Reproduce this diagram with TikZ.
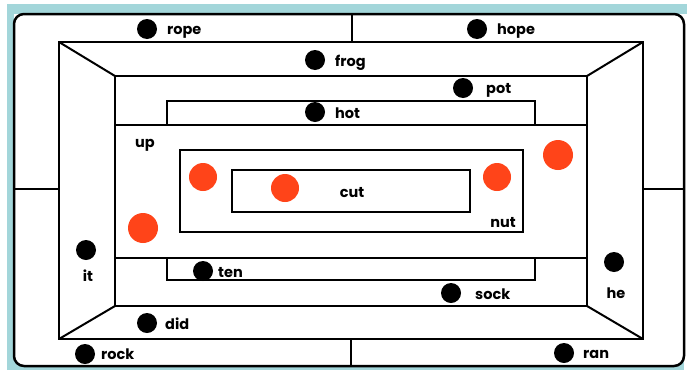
\documentclass[tikz,border=0pt]{standalone}
\usepackage{fontspec}
\setmainfont{Poppins}
\usepackage{xcolor}
\definecolor{bandteal}{HTML}{A3D6DA}
\definecolor{dotred}{HTML}{FF4419}
\tikzset{
  frame/.style={draw=black,line width=2pt},
  blackdot/.style={circle,fill=black,inner sep=0pt,minimum size=20pt},
  reddot/.style={circle,fill=dotred,inner sep=0pt,minimum size=28pt},
  word/.style={inner sep=0pt,anchor=mid,yshift=-3pt,font=\fontsize{14.5}{14}\selectfont\bfseries},
  wordw/.style={word,anchor=mid west}
}

\begin{document}
\begin{tikzpicture}[x=1pt,y=-1pt]
 \useasboundingbox (0,0) rectangle (687,370);
 \fill[white] (0,0) rectangle (687,370);
 \fill[bandteal] (7,4) rectangle (687,14);
 \fill[bandteal] (7,4) rectangle (14,370);
 \fill[bandteal] (7,360) rectangle (684,370);
 \draw[fill=white,line width=2.5pt,rounded corners=10pt] (14,14) rectangle (684,366);

 % corners of the frames
 \coordinate (OTL) at (59,42);
 \coordinate (OTR) at (643,42);
 \coordinate (OBL) at (59,339);
 \coordinate (OBR) at (643,339);
 \coordinate (ITL) at (115,76);
 \coordinate (ITR) at (587,76);
 \coordinate (IBL) at (115,306);
 \coordinate (IBR) at (587,306);

 \draw[frame] (OTL) rectangle (OBR);
 \draw[frame] (ITL) rectangle (IBR);
 \draw[frame] (OTL) -- (ITL);
 \draw[frame] (OTR) -- (ITR);
 \draw[frame] (OBL) -- (IBL);
 \draw[frame] (OBR) -- (IBR);

 % ties to the outer border
 \draw[frame] (352,14) -- (352,42);
 \draw[frame] (351,339) -- (351,366);
 \draw[frame] (14,189) -- (59,189);
 \draw[frame] (643,189) -- (684,189);

 % hot and ten strips
 \draw[frame] (115,125) -- (587,125);
 \draw[frame] (167,125) |- (535,101) -- (535,125);
 \draw[frame] (115,258) -- (587,258);
 \draw[frame] (167,258) |- (535,280) -- (535,258);

 % inner boxes
 \draw[frame] (180,150) rectangle (523,232);
 \draw[frame] (232,170) rectangle (470,212);

 % black dots
 \node[blackdot] (rope) at (147,29) {};
 \node[blackdot] (hope) at (477,29) {};
 \node[blackdot] (frog) at (315,60) {};
 \node[blackdot] (pot)  at (463,88) {};
 \node[blackdot] (hot)  at (315,112) {};
 \node[blackdot] (it)   at (86,250) {};
 \node[blackdot] (ten)  at (203,271) {};
 \node[blackdot] (did)  at (147,323) {};
 \node[blackdot] (rock) at (85,354) {};
 \node[blackdot] (sock) at (451,293) {};
 \node[blackdot] (he)   at (614,262) {};
 \node[blackdot] (ran)  at (564,353) {};

 % red dots
 \node[reddot,minimum size=30pt] (red1) at (143,228) {};
 \node[reddot] (red2) at (203,177) {};
 \node[reddot] (red3) at (285,188) {};
 \node[reddot] (red4) at (497,177) {};
 \node[reddot,minimum size=30pt] (red5) at (558,155) {};

 % words
 \node[wordw] (wrope) at (167,29) {rope};
 \node[wordw] (whope) at (497,29) {hope};
 \node[wordw] (wfrog) at (335,61) {frog};
 \node[wordw] (wpot)  at (486,88) {pot};
 \node[wordw] (whot)  at (335,113) {hot};
 \node[word] (wup)  at (145,142) {up};
 \node[word] (wcut) at (352,192) {cut};
 \node[word] (wnut) at (503,222) {nut};
 \node[word] (wit)  at (88,276) {it};
 \node[wordw] (wten)  at (218,272) {ten};
 \node[wordw] (wdid)  at (165,324) {did};
 \node[wordw] (wrock) at (101,354) {rock};
 \node[wordw] (wsock) at (475,294) {sock};
 \node[word] (whe) at (616,293) {he};
 \node[wordw] (wran)  at (583,353) {ran};
\end{tikzpicture}
\end{document}
